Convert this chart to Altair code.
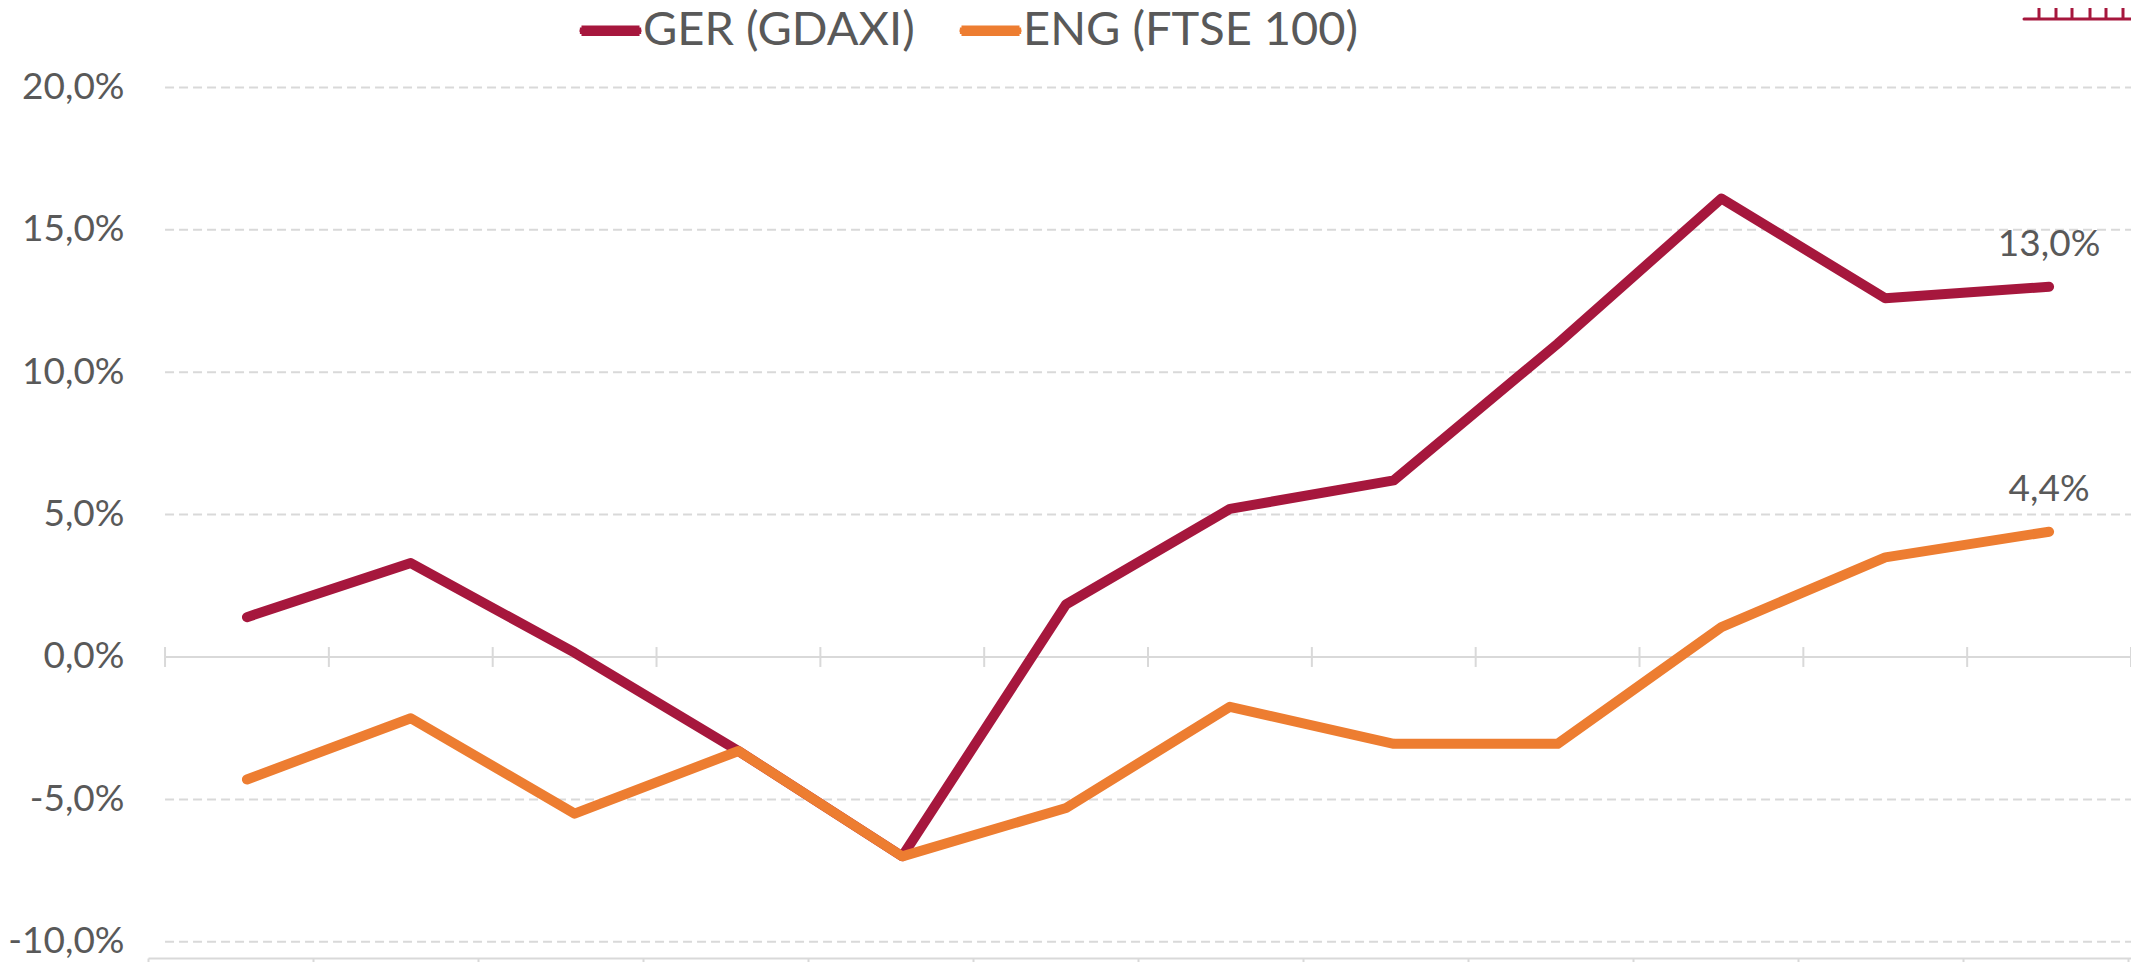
import altair as alt
import pandas as pd

months = list(range(12))
ger = [1.4, 3.3, 0.15, -3.3, -7.0, 1.85, 5.2, 6.2, 11.0, 16.1, 12.6, 13.0]
eng = [-4.3, -2.15, -5.5, -3.3, -7.0, -5.3, -1.75, -3.05, -3.05, 1.05, 3.5, 4.4]
names = ["GER (GDAXI)", "ENG (FTSE 100)"]
colors = ["#A6173D", "#ED7D31"]
y_ticks = [-10, -5, 0, 5, 10, 15, 20]

W, H = 1983, 950
FONT = "Lato"
TXT = "#595959"
GRID = "#D9D9D9"
CAPSULE = ("M-.936,-.129L.936,-.129M-.988,-.0646L.988,-.0646M-1,0L1,0"
           "M-.988,.0646L.988,.0646M-.936,.129L.936,.129")

rows = []
for n, vals in zip(names, [ger, eng]):
    for m, v in zip(months, vals):
        rows.append({"series": n, "pos": m + 0.5, "val": v})
df = pd.DataFrame(rows)

last = df[df.pos == 11.5].copy()
last["label"] = last.val.map(lambda v: f"{v:.1f}%".replace(".", ","))

yscale = alt.Scale(domain=[-10.57, 22.79], nice=False, zero=False)
xscale = alt.Scale(domain=[-0.104, 12.0], nice=False, zero=False)
xhidden = alt.X("pos:Q", scale=xscale, axis=None)

grid = (
    alt.Chart(pd.DataFrame({"y": [t for t in y_ticks if t != 0], "a": 0.0, "b": 12.0}))
    .mark_rule(color=GRID, strokeWidth=2, strokeDash=[9, 5])
    .encode(x=alt.X("a:Q", scale=xscale, axis=None), x2="b:Q",
            y=alt.Y("y:Q", scale=yscale))
)

zero_line = (
    alt.Chart(pd.DataFrame({"y": [0], "a": 0.0, "b": 12.0}))
    .mark_rule(color=GRID, strokeWidth=2)
    .encode(x=alt.X("a:Q", scale=xscale, axis=None), x2="b:Q",
            y=alt.Y("y:Q", scale=yscale))
)
zero_ticks = (
    alt.Chart(pd.DataFrame({"t": list(range(13))}))
    .transform_calculate(a="-0.35", b="0.35")
    .mark_rule(color=GRID, strokeWidth=2)
    .encode(x=alt.X("t:Q", scale=xscale, axis=None),
            y=alt.Y("a:Q", scale=yscale), y2="b:Q")
)

lines = (
    alt.Chart(df)
    .mark_line(strokeWidth=10, strokeCap="round", strokeJoin="round")
    .encode(
        x=xhidden,
        y=alt.Y("val:Q", scale=yscale, title=None,
                axis=alt.Axis(values=y_ticks, grid=False, domain=False, ticks=False,
                              labelFontSize=37, labelFont=FONT, labelColor=TXT,
                              labelPadding=24, labelFontWeight="normal",
                              labelExpr="replace(replace(format(datum.value,'.1f'),'.',','),'\u2212','-')+'%'")),
        color=alt.Color("series:N", sort=names,
                        scale=alt.Scale(domain=names, range=colors),
                        legend=alt.Legend(title=None, orient="none", legendX=430, legendY=-10,
                                          direction="horizontal", symbolType=CAPSULE,
                                          symbolSize=3844, symbolStrokeWidth=2.3,
                                          labelFontSize=47, labelFont=FONT, labelColor=TXT,
                                          labelLimit=600, labelOffset=0, columnPadding=39)),
        detail="series:N",
    )
)

labels = (
    alt.Chart(last)
    .mark_text(fontSize=37, font=FONT, color=TXT, dy=-42)
    .encode(x=xhidden, y=alt.Y("val:Q", scale=yscale), text="label:N")
)

bottom_axis = (
    alt.Chart(pd.DataFrame({"b": list(range(13))}))
    .mark_rule(opacity=0)
    .encode(
        x=alt.X("b:Q", scale=alt.Scale(domain=[0, 12.018], nice=False, zero=False),
                axis=alt.Axis(values=list(range(13)), labels=False, title=None, grid=False,
                              domainColor=GRID, domainWidth=2, tickColor=GRID, tickWidth=2,
                              tickSize=10)),
    )
)

ICON = colors[0]
icon_base = alt.Chart(pd.DataFrame({"k": [0]})).mark_rule(
    color=ICON, strokeWidth=3, strokeCap="round"
).encode(x=alt.value(1876), x2=alt.value(1989), y=alt.value(11))
icon_posts = [
    alt.Chart(pd.DataFrame({"k": [0]})).mark_rule(color=ICON, strokeWidth=3).encode(
        x=alt.value(p), y=alt.value(0), y2=alt.value(11))
    for p in (1891, 1908, 1924, 1942, 1958, 1975)
]

chart = (
    alt.layer(grid, zero_line, zero_ticks, lines, labels, bottom_axis, icon_base, *icon_posts)
    .resolve_scale(x="independent", y="shared")
    .properties(width=W, height=H, padding={"left": 140, "top": 0, "right": 0, "bottom": 4},
                autosize=alt.AutoSizeParams(type="none"),
                background="white")
    .configure_view(stroke=None)
)

chart.save("out.html", embed_options={"renderer": "svg", "actions": False})
